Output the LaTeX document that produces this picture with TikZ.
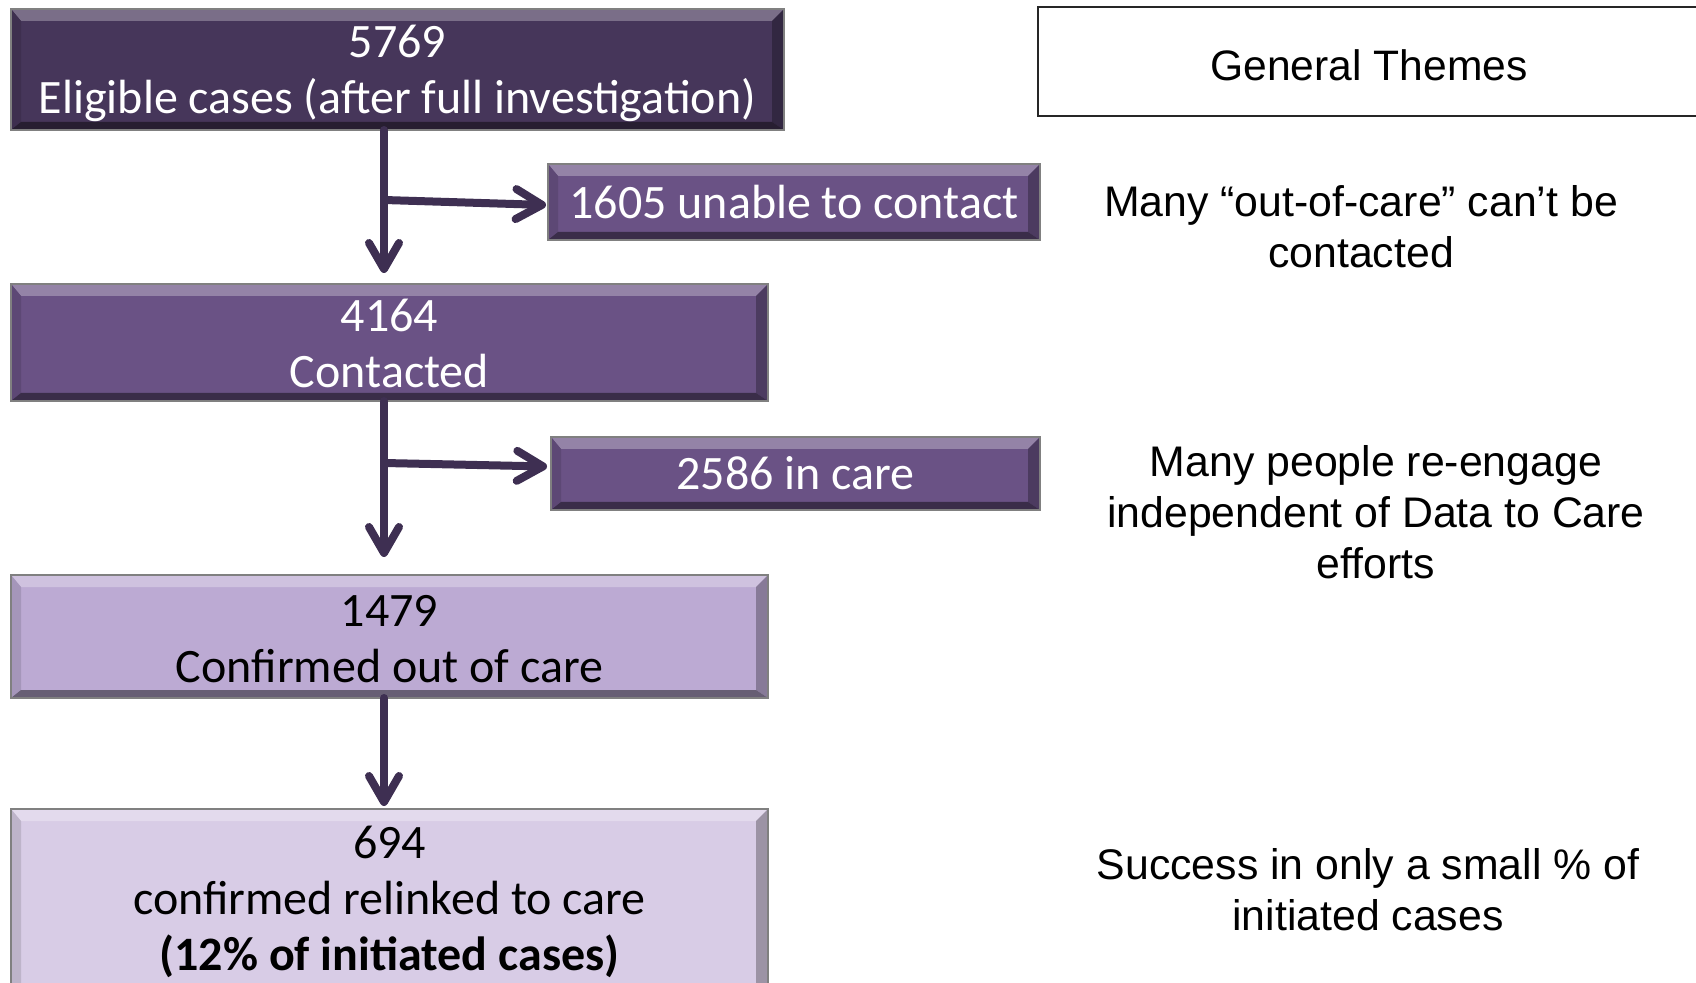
\documentclass[tikz,border=0pt]{standalone}
\usepackage{fontspec}
\setmainfont{Carlito}
\newfontfamily\themefont{Liberation Sans}
\usetikzlibrary{arrows.meta,calc}

\definecolor{faceA}{HTML}{46365A}
\definecolor{faceB}{HTML}{6A5285}
\definecolor{faceC}{HTML}{BCAAD3}
\definecolor{faceD}{HTML}{D8CCE6}
\definecolor{arrowc}{HTML}{3E2F52}

% bevelled edges of a stage box: #1 node name, #2 face colour
\newcommand\bevelbox[2]{%
  \fill[#2!72!white] (#1.north west) -- (#1.north east) -- ($(#1.north east)+(-12,12)$) -- ($(#1.north west)+(10,12)$) -- cycle;
  \fill[#2!88!black] (#1.north west) -- ($(#1.north west)+(10,12)$) -- ($(#1.south west)+(10,-8)$) -- (#1.south west) -- cycle;
  \fill[#2!72!black] (#1.north east) -- (#1.south east) -- ($(#1.south east)+(-12,-8)$) -- ($(#1.north east)+(-12,12)$) -- cycle;
  \fill[#2!55!black] (#1.south west) -- ($(#1.south west)+(10,-8)$) -- ($(#1.south east)+(-12,-8)$) -- (#1.south east) -- cycle;
  \draw[black!50, line width=0.6pt] (#1.north west) rectangle (#1.south east);
}

\begin{document}
\begin{tikzpicture}[x=0.5pt, y=-0.5pt,
  stage/.style={rectangle, inner sep=0pt, outer sep=0pt, align=center,
    font=\fontsize{24}{28}\selectfont},
  theme/.style={align=center, inner sep=0pt, font=\themefont\fontsize{21.4}{25.5}\selectfont},
  arr/.style={draw=arrowc, line width=4pt, line cap=round,
    -{Straight Barb[length=13pt, width=15pt, line cap=round, line join=round]}}]

\useasboundingbox (0,0) rectangle (1696,983);

% stage boxes
\node[stage, fill=faceA, text=white, minimum width=386.5pt, minimum height=60.5pt]
  (eligible) at (397.5,69.5) {\rule{0pt}{20.5pt}5769\\Eligible cases (after full investigation)};
\node[stage, fill=faceB, text=white, minimum width=246pt, minimum height=38pt]
  (unable) at (794,202) {1605 unable to contact};
\node[stage, fill=faceB, text=white, minimum width=378.5pt, minimum height=58.5pt]
  (contacted) at (389.5,342.5) {\rule{0pt}{17pt}4164\\Contacted};
\node[stage, fill=faceB, text=white, minimum width=244.5pt, minimum height=36.5pt]
  (incare) at (795.5,473.5) {2586 in care};
\node[stage, fill=faceC, text=black, minimum width=378.5pt, minimum height=61.5pt]
  (outofcare) at (389.5,636.5) {\rule{0pt}{18pt}1479\\Confirmed out of care};
\node[stage, fill=faceD, text=black, minimum width=378.5pt, minimum height=93pt]
  (relinked) at (389.5,902) {694\\confirmed relinked to care\\\textbf{(12\% of initiated cases)}};

\bevelbox{eligible}{faceA}
\bevelbox{unable}{faceB}
\bevelbox{contacted}{faceB}
\bevelbox{incare}{faceB}
\bevelbox{outofcare}{faceC}
\bevelbox{relinked}{faceD}

% themes column
\node[draw=black!85, line width=1.2pt, minimum width=331pt, minimum height=54.5pt,
  inner sep=0pt, text height=19pt, text depth=0pt,
  font=\themefont\fontsize{21.3}{25}\selectfont]
  (themes) at (1369,61.5) {General Themes};
\node[theme] (t1) at (1361,227) {Many “out-of-care” can’t be\\contacted};
\node[theme] (t2) at (1376,512) {Many people re-engage\\independent of Data to Care\\efforts};
\node[theme] (t3) at (1368,890) {Success in only a small \% of\\initiated cases};

% connectors
\coordinate (ax) at (384,0);
\coordinate (br1) at (384,200);
\coordinate (br2) at (384,463);
\draw[arr] (eligible.south -| ax) -- ($(contacted.north -| ax)+(0,-11)$);
\draw[arr] (br1) -- ($(unable.west)+(-2,3)$);
\draw[arr] (contacted.south -| ax) -- ($(outofcare.north -| ax)+(0,-18)$);
\draw[arr] (br2) -- ($(incare.west)+(-4,-7)$);
\draw[arr] (outofcare.south -| ax) -- ($(relinked.north -| ax)+(0,-3)$);
\end{tikzpicture}
\end{document}
